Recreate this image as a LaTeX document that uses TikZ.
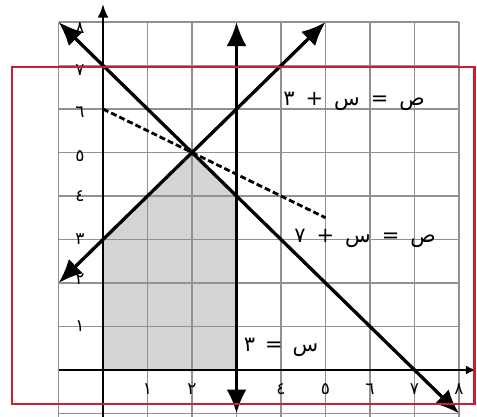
\documentclass[tikz,border=0pt]{standalone}
\usepackage{fontspec}
\newfontfamily\arabicfont[Script=Arabic]{DejaVu Sans}
\usetikzlibrary{arrows.meta}
\definecolor{gridgray}{RGB}{145,145,145}
\definecolor{regiongray}{RGB}{212,212,212}
\definecolor{framered}{RGB}{205,30,45}
\tikzset{
  gridline/.style={draw=gridgray, line width=1.8pt},
  heavy/.style={draw=black, line width=3.3pt},
  axisline/.style={draw=black, line width=2.8pt},
  bigtips/.style={{Latex[length=24pt,width=20pt]}-{Latex[length=24pt,width=20pt]}},
  tiptop/.style={-{Latex[length=14pt,width=11pt]}},
  tipright/.style={-{Latex[length=10pt,width=9pt]}},
  ticklab/.style={font=\arabicfont\fontsize{17}{18}\selectfont, inner sep=0pt},
  eqlab/.style={font=\arabicfont\fontsize{21}{22}\selectfont, inner sep=0pt},
}
\begin{document}
\begin{tikzpicture}[x=44.5pt,y=43.5pt]
\useasboundingbox (-2.315,-1.08) rectangle (8.404,8.506);
% feasible region
\fill[regiongray] (0,0) -- (0,3) -- (2,5) -- (3,4) -- (3,0) -- cycle;
% grid
\foreach \i in {-1,...,8} {
  \draw[gridline] (\i,-1.2) -- (\i,8);
  \draw[gridline] (-1,\i) -- (8,\i);
}
% named end points
\coordinate (ybot) at (0,-1.2);
\coordinate (ytop) at (0,8.42);
\coordinate (xleft) at (-1,0);
\coordinate (xright) at (8.38,0);
\coordinate (vbot) at (3,-1);
\coordinate (vtop) at (3,8);
\coordinate (aA) at (-1,2);
\coordinate (aB) at (5,8);
\coordinate (bA) at (-1,8);
\coordinate (bB) at (8,-1);
\coordinate (dA) at (0,6);
\coordinate (dB) at (5,3.5);
% axes
\draw[axisline, tiptop] (ybot) -- (ytop);
\draw[axisline, tipright] (xleft) -- (xright);
% lines
\draw[heavy, bigtips] (vbot) -- (vtop);
\draw[heavy, bigtips] (aA) -- (aB);
\draw[heavy, bigtips] (bA) -- (bB);
\draw[draw=black, line width=2.8pt, dash pattern=on 6pt off 3pt] (dA) -- (dB);
% tick labels
\node[ticklab] (x1) at (1,-0.44) {١};
\node[ticklab] (x2) at (2,-0.44) {٢};
\node[ticklab] (x4) at (4,-0.44) {٤};
\node[ticklab] (x5) at (5,-0.44) {٥};
\node[ticklab] (x6) at (6,-0.44) {٦};
\node[ticklab] (x7) at (7,-0.44) {٧};
\node[ticklab] (x8) at (8,-0.44) {٨};
\node[ticklab] (y1) at (-0.52,1.02) {١};
\node[ticklab] (y2) at (-0.52,2.1) {٢};
\node[ticklab] (y3) at (-0.52,3) {٣};
\node[ticklab] (y4) at (-0.52,4) {٤};
\node[ticklab] (y5) at (-0.52,4.92) {٥};
\node[ticklab] (y6) at (-0.52,5.93) {٦};
\node[ticklab] (y7) at (-0.52,6.9) {٧};
\node[ticklab] (y8) at (-0.52,7.85) {٨};
% equation labels: each glyph boxed, boxes in visual left-to-right order
\node[eqlab] (eq1) at (5.64,6.18) {\hbox{٣}\hspace{11pt}\hbox{+}\hspace{11pt}\hbox{س}\hspace{11pt}\hbox{=}\hspace{11pt}\hbox{ص}};
\node[eqlab] (eq2) at (5.89,3.03) {\hbox{٧}\hspace{11pt}\hbox{+}\hspace{11pt}\hbox{س}\hspace{11pt}\hbox{=}\hspace{11pt}\hbox{ص}};
\node[eqlab] (eq3) at (4.0,0.53) {\hbox{٣}\hspace{10pt}\hbox{=}\hspace{10pt}\hbox{س}};
% red frame
\draw[draw=framered, line width=2.6pt] (-2.045,-0.78) rectangle (8.35,6.97);
\end{tikzpicture}
\end{document}
